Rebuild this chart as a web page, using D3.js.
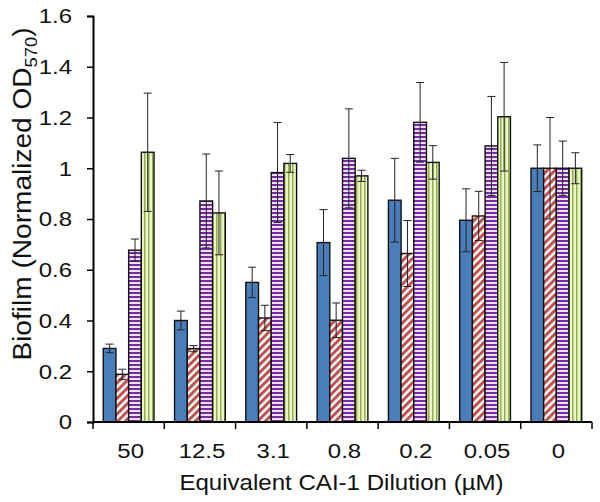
<!DOCTYPE html>
<html>
<head>
<meta charset="utf-8">
<script src="https://cdn.jsdelivr.net/npm/d3@7"></script>
<style>
html,body{margin:0;padding:0;background:#fff;}
svg{display:block;}
text{font-family:"Liberation Sans",Arial,sans-serif;fill:#111;}
</style>
</head>
<body>
<svg id="chart" width="600" height="502"></svg>
<script>
const categories = ["50","12.5","3.1","0.8","0.2","0.05","0"];
const seriesNames = ["s1","s2","s3","s4"];
const values1 = [0.29,0.40,0.55,0.707,0.874,0.795,1.0];
const errors1 = [0.017,0.037,0.06,0.13,0.165,0.124,0.092];
const values2 = [0.188,0.289,0.41,0.401,0.664,0.812,1.0];
const errors2 = [0.02,0.012,0.05,0.068,0.13,0.097,0.2];
const values3 = [0.677,0.871,0.983,1.039,1.181,1.088,1.0];
const errors3 = [0.044,0.185,0.197,0.195,0.157,0.195,0.107];
const values4 = [1.063,0.824,1.019,0.97,1.023,1.203,1.0];
const errors4 = [0.233,0.165,0.035,0.022,0.066,0.214,0.061];
const yTicks = [0,0.2,0.4,0.6,0.8,1,1.2,1.4,1.6];
const yTickLabels = ["0","0.2","0.4","0.6","0.8","1","1.2","1.4","1.6"];

const svg = d3.select("#chart");
const mLeft = 93, mRight = 592, mTop = 16, mBottom = 422;

const defs = svg.append("defs");
const pr = defs.append("pattern").attr("id","pRed").attr("patternUnits","userSpaceOnUse")
  .attr("width",5.5).attr("height",5.5).attr("patternTransform","rotate(45)");
pr.append("rect").attr("width",5.5).attr("height",5.5).attr("fill","#ffffff");
pr.append("rect").attr("width",3).attr("height",5.5).attr("fill","#c0504d");
const pp = defs.append("pattern").attr("id","pPur").attr("patternUnits","userSpaceOnUse")
  .attr("width",4).attr("height",4);
pp.append("rect").attr("width",4).attr("height",4).attr("fill","#f4dcff");
pp.append("rect").attr("width",4).attr("height",2).attr("fill","#7030a0");
const pg = defs.append("pattern").attr("id","pGrn").attr("patternUnits","userSpaceOnUse")
  .attr("width",4).attr("height",4);
pg.append("rect").attr("width",4).attr("height",4).attr("fill","#eef5c8");
pg.append("rect").attr("width",1.5).attr("height",4).attr("fill","#8fb04a");

const fills = ["#4a7ebb","url(#pRed)","url(#pPur)","url(#pGrn)"];
const vals = [values1,values2,values3,values4];
const errs = [errors1,errors2,errors3,errors4];

const x = d3.scaleBand().domain(categories).range([mLeft,mRight]).paddingInner(0.288).paddingOuter(0.144);
const xs = d3.scaleBand().domain(seriesNames).range([0,x.bandwidth()]).padding(0);
const y = d3.scaleLinear().domain([0,1.6]).range([mBottom,mTop]);

const data = [];
categories.forEach((c,i)=>{
  seriesNames.forEach((s,j)=>{
    data.push({c, s, j, v: vals[j][i], e: errs[j][i]});
  });
});

svg.append("g").selectAll("rect").data(data).join("rect")
  .attr("x", d => x(d.c) + xs(d.s))
  .attr("y", d => y(d.v))
  .attr("width", xs.bandwidth())
  .attr("height", d => y(0) - y(d.v))
  .attr("fill", d => fills[d.j])
  .attr("stroke","#111")
  .attr("stroke-width",1.4);

const eg = svg.append("g").attr("stroke","#222").attr("stroke-width",1).attr("fill","none");
data.forEach(d=>{
  const cx = x(d.c) + xs(d.s) + xs.bandwidth()/2;
  const y1 = y(d.v + d.e), y2 = y(d.v - d.e);
  eg.append("line").attr("x1",cx).attr("x2",cx).attr("y1",y1).attr("y2",y2);
  eg.append("line").attr("x1",cx-4).attr("x2",cx+4).attr("y1",y1).attr("y2",y1);
  eg.append("line").attr("x1",cx-4).attr("x2",cx+4).attr("y1",y2).attr("y2",y2);
});

const yAxis = d3.axisLeft(y).tickValues(yTicks).tickFormat("").tickSizeOuter(0).tickSize(6);
const ya = svg.append("g").attr("transform",`translate(${mLeft},0)`).call(yAxis);
ya.select(".domain").attr("stroke","#000").attr("stroke-width",2);
ya.selectAll(".tick line").attr("stroke","#000").attr("stroke-width",1.5);
svg.append("g").selectAll("text").data(yTicks).join("text")
  .attr("transform", d => `translate(72,${y(d)}) scale(1.14,1)`)
  .attr("dy","0.35em")
  .attr("text-anchor","end")
  .style("font-size","21px")
  .text((d,i)=>yTickLabels[i]);

const xa = svg.append("g").attr("transform",`translate(0,${mBottom})`);
xa.append("line").attr("x1",mLeft).attr("x2",mRight).attr("y1",0).attr("y2",0).attr("stroke","#000").attr("stroke-width",2);
const bnds = d3.range(categories.length+1).map(i => mLeft + i*(mRight-mLeft)/categories.length);
xa.selectAll("line.tk").data(bnds).join("line").attr("class","tk")
  .attr("x1",d=>d).attr("x2",d=>d).attr("y1",0).attr("y2",7).attr("stroke","#000").attr("stroke-width",1.5);
xa.selectAll("text").data(categories).join("text")
  .attr("transform", d => `translate(${x(d) + x.bandwidth()/2 + 2},35.5) scale(1.14,1)`)
  .attr("text-anchor","middle")
  .style("font-size","21px")
  .text(d=>d);

svg.append("text").attr("transform",`translate(${(mLeft+mRight)/2 - 1},490) scale(1.07,1)`).attr("text-anchor","middle")
  .style("font-size","22.5px").text("Equivalent CAI-1 Dilution (µM)");
const yt = svg.append("text").attr("transform","translate(31,194) rotate(-90) scale(1.08,1)").attr("text-anchor","middle")
  .style("font-size","26px");
yt.append("tspan").text("Biofilm (Normalized OD");
yt.append("tspan").attr("dy",6).style("font-size","17px").text("570");
yt.append("tspan").attr("dy",-6).text(")");
</script>
</body>
</html>
